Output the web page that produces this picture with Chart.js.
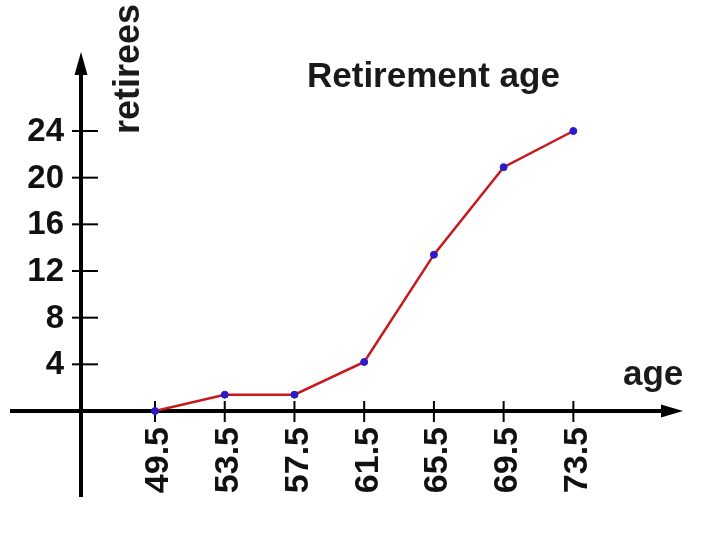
<!DOCTYPE html>
<html>
<head>
<meta charset="utf-8">
<script src="https://cdn.jsdelivr.net/npm/chart.js@4"></script>
<style>
html,body{margin:0;padding:0;background:#fff;}
#wrap{width:720px;height:540px;}
</style>
</head>
<body>
<div id="wrap"><canvas id="c" width="720" height="540"></canvas></div>
<script>
const title = 'Retirement age';
const xAxisTitle = 'age';
const yAxisTitle = 'retirees';
const ages = [49.5, 53.5, 57.5, 61.5, 65.5, 69.5, 73.5];
const retirees = [0, 1.4, 1.4, 4.2, 13.4, 20.9, 24];
const yTicks = [4, 8, 12, 16, 20, 24];
const xTicks = [49.5, 53.5, 57.5, 61.5, 65.5, 69.5, 73.5];
const xTickLabels = ['49.5', '53.5', '57.5', '61.5', '65.5', '69.5', '73.5'];

const FONT = '"Liberation Sans", Arial, sans-serif';

const axesPlugin = {
  id: 'axesPlugin',
  beforeDatasetsDraw(chart) {
    const ctx = chart.ctx;
    const xs = chart.scales.x, ys = chart.scales.y;
    const y0 = ys.getPixelForValue(0);
    const x0 = chart.chartArea.left;
    const top = chart.chartArea.top;
    const bottom = chart.chartArea.bottom;
    const right = chart.chartArea.right;
    ctx.save();
    ctx.strokeStyle = '#000';
    ctx.fillStyle = '#000';
    // y axis
    ctx.lineWidth = 4;
    ctx.beginPath();
    ctx.moveTo(x0, bottom);
    ctx.lineTo(x0, top + 18);
    ctx.stroke();
    ctx.beginPath();
    ctx.moveTo(x0, top);
    ctx.lineTo(x0 - 6.5, top + 23);
    ctx.lineTo(x0 + 6.5, top + 23);
    ctx.closePath();
    ctx.fill();
    // x axis
    ctx.beginPath();
    ctx.moveTo(10, y0);
    ctx.lineTo(right - 18, y0);
    ctx.stroke();
    ctx.beginPath();
    ctx.moveTo(right, y0);
    ctx.lineTo(right - 22, y0 - 6.5);
    ctx.lineTo(right - 22, y0 + 6.5);
    ctx.closePath();
    ctx.fill();
    // y ticks
    ctx.lineWidth = 2;
    ctx.font = 'bold 33px ' + FONT;
    ctx.textAlign = 'right';
    ctx.textBaseline = 'middle';
    ctx.fillStyle = '#111';
    yTicks.forEach(v => {
      const py = ys.getPixelForValue(v);
      ctx.beginPath();
      ctx.moveTo(x0 - 9, py);
      ctx.lineTo(x0 + 17, py);
      ctx.stroke();
      ctx.fillText(String(v), 64, py + 1);
    });
    // x ticks
    ctx.font = 'bold 34px ' + FONT;
    xTicks.forEach((v, i) => {
      const px = xs.getPixelForValue(v);
      ctx.beginPath();
      ctx.moveTo(px, y0 - 10);
      ctx.lineTo(px, y0 + 11);
      ctx.stroke();
      ctx.save();
      ctx.translate(px + 4, 427);
      ctx.rotate(-Math.PI / 2);
      ctx.textAlign = 'right';
      ctx.textBaseline = 'middle';
      ctx.fillText(xTickLabels[i], 0, 0);
      ctx.restore();
    });
    // titles
    ctx.fillStyle = '#1a1a1a';
    ctx.font = 'bold 35px ' + FONT;
    ctx.textAlign = 'left';
    ctx.textBaseline = 'alphabetic';
    ctx.fillText(title, 307, 87);
    ctx.font = 'bold 35px ' + FONT;
    ctx.fillText(xAxisTitle, 623, 385);
    ctx.save();
    ctx.translate(139, 134);
    ctx.rotate(-Math.PI / 2);
    ctx.font = 'bold 36px ' + FONT;
    ctx.textAlign = 'left';
    ctx.textBaseline = 'alphabetic';
    ctx.fillText(yAxisTitle, 0, 0);
    ctx.restore();
    ctx.restore();
  }
};

new Chart(document.getElementById('c'), {
  type: 'line',
  data: {
    datasets: [{
      data: ages.map((a, i) => ({x: a, y: retirees[i]})),
      borderColor: '#c8181e',
      borderWidth: 2.5,
      pointBackgroundColor: '#2a1cc8',
      pointBorderColor: '#2a1cc8',
      pointRadius: 3.5,
      pointBorderWidth: 1,
      tension: 0,
      fill: false,
      clip: false
    }]
  },
  options: {
    responsive: false,
    animation: false,
    devicePixelRatio: 1,
    layout: {padding: {left: 81, right: 37, top: 52, bottom: 43}},
    plugins: {legend: {display: false}, tooltip: {enabled: false}, title: {display: false}},
    scales: {
      x: {type: 'linear', display: false, min: 45.254, max: 79.79},
      y: {type: 'linear', display: false, min: -7.37, max: 30.77}
    }
  },
  plugins: [axesPlugin]
});
</script>
</body>
</html>
